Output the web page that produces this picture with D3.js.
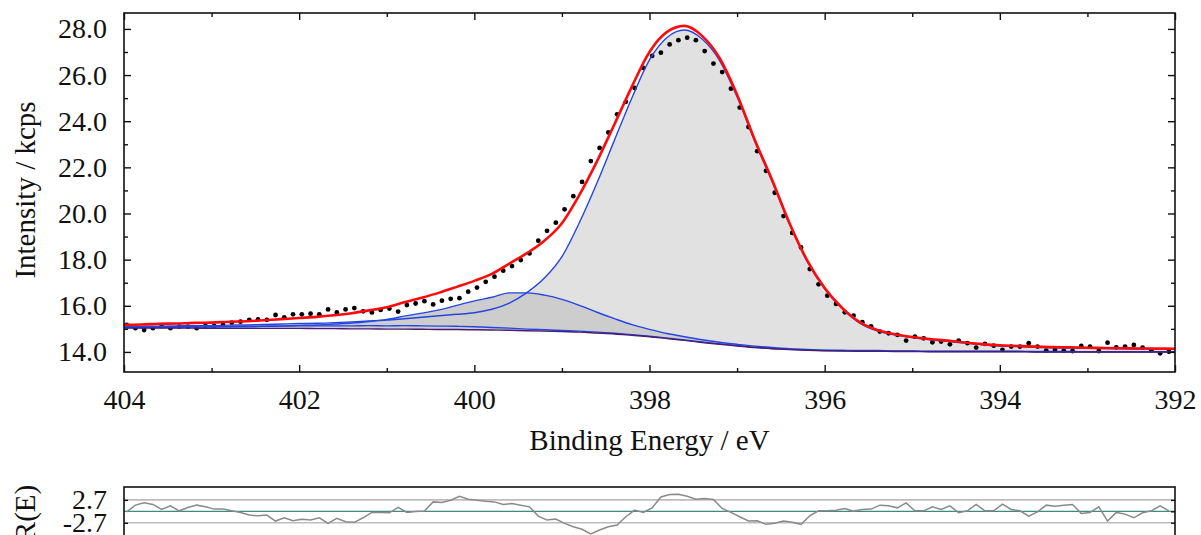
<!DOCTYPE html>
<html>
<head>
<meta charset="utf-8">
<script src="https://cdn.jsdelivr.net/npm/d3@7"></script>
<style>
  body { margin: 0; background: #fff; }
  svg text { font-family: "Liberation Serif", "Times New Roman", serif; fill: #111; }
</style>
</head>
<body>
<svg id="chart" width="1201" height="535"></svg>
<script>
// measured spectrum, one point every 0.1 eV starting at 403.97 eV
var dataStart = 403.97, dataStep = 0.1;
var counts = [
  15.17,15.03,14.95,15.03,15.12,15.03,15.10,15.10,15.03,15.13,
  15.13,15.17,15.27,15.31,15.39,15.41,15.39,15.60,15.50,15.63,
  15.63,15.66,15.63,15.84,15.71,15.84,15.90,15.76,15.71,15.82,
  15.88,15.75,16.03,16.10,16.20,16.06,16.22,16.30,16.33,16.61,
  16.79,17.04,17.26,17.52,17.72,17.98,18.27,18.82,19.25,19.60,
  20.18,20.75,21.37,22.27,22.84,23.51,24.30,24.84,25.44,26.31,
  26.83,26.97,27.33,27.51,27.62,27.51,27.04,26.50,26.13,25.41,
  24.59,23.75,22.70,21.85,20.90,19.89,19.16,18.53,17.59,16.93,
  16.44,16.08,15.72,15.57,15.29,15.11,14.88,14.81,14.74,14.49,
  14.66,14.59,14.42,14.45,14.33,14.49,14.38,14.19,14.35,14.27,
  14.09,14.23,14.23,14.38,14.23,14.06,14.09,14.06,14.04,14.26,
  14.23,14.04,14.40,14.20,14.23,14.30,14.19,14.06,13.94,14.01
];
// normalised residual R(E) at the same energies
var residuals = [
  -0.12,1.46,2.00,1.62,0.45,1.29,0.12,0.92,1.46,1.06,
  0.52,0.52,0.12,-0.30,-0.89,-1.06,-0.89,-2.30,-1.53,-2.23,
  -1.90,-2.07,-1.53,-2.84,-1.67,-2.46,-2.60,-1.53,-0.26,-0.26,
  -0.35,0.92,-0.26,-0.07,0.05,2.23,2.09,2.63,3.57,2.86,
  2.63,2.39,2.23,1.62,1.85,1.46,1.06,-1.13,-2.07,-1.83,
  -2.84,-3.64,-4.25,-5.35,-4.41,-3.64,-3.24,-1.29,0.28,-0.26,
  0.82,3.40,3.97,4.04,3.57,2.86,3.03,2.79,0.68,-0.26,
  -1.29,-2.30,-2.23,-3.08,-2.84,-2.30,-2.60,-3.08,-1.06,0.12,
  0.12,0.28,0.68,0.05,0.45,0.52,1.46,1.29,0.82,2.00,
  0.12,0.12,1.06,0.45,1.29,-0.35,0.12,1.62,0.12,0.12,
  1.69,0.45,0.12,-1.13,-0.12,1.46,1.22,1.46,1.62,-0.49,
  -0.26,1.06,-2.30,-0.26,-0.66,-1.53,-0.35,0.12,1.29,0.12
];

// fit curves, read every 0.2 eV from 404 down to 392
var fitStart = 404, fitStep = 0.2;
var background = [
  15.03,15.03,15.03,15.03,15.03,15.02,15.02,15.02,15.02,15.02,15.02,
  15.01,15.01,15.00,15.00,14.99,14.99,14.98,14.97,14.97,14.96,
  14.95,14.94,14.92,14.90,14.88,14.86,14.82,14.78,14.72,14.66,
  14.58,14.50,14.41,14.33,14.26,14.19,14.14,14.10,14.07,14.05,
  14.04,14.03,14.03,14.02,14.02,14.01,14.01,14.01,14.01,14.01,
  14.01,14.00,14.00,14.00,14.00,14.00,14.00,14.00,14.00,14.00
];
// component heights above the background
var peakMain = [
  0.07,0.08,0.09,0.10,0.11,0.12,0.14,0.15,0.17,0.19,0.21,
  0.23,0.26,0.30,0.34,0.39,0.45,0.52,0.60,0.66,0.74,
  0.90,1.18,1.65,2.30,3.25,4.75,6.50,8.40,10.30,12.00,
  13.05,13.45,13.15,12.30,10.80,8.95,7.25,5.42,3.85,2.68,
  1.83,1.22,0.88,0.72,0.60,0.52,0.45,0.37,0.30,0.25,
  0.22,0.20,0.18,0.17,0.16,0.15,0.14,0.13,0.125,0.12
];
var peakSecond = [
  0.03,0.03,0.04,0.04,0.05,0.06,0.07,0.08,0.09,0.11,0.13,
  0.16,0.20,0.25,0.32,0.42,0.56,0.70,0.85,1.05,1.25,
  1.42,1.62,1.64,1.56,1.40,1.16,0.90,0.66,0.46,0.32,
  0.22,0.16,0.12,0.09,0.07,0.06,0.05,0.04,0.04,0.03,
  0.03,0.03,0.03,0.02,0.02,0.02,0.02,0.02,0.02,0.02,
  0.02,0.02,0.02,0.02,0.01,0.01,0.01,0.01,0.01,0.01
];
var peakThird = [
  0.05,0.05,0.06,0.06,0.07,0.07,0.08,0.08,0.09,0.10,0.11,
  0.12,0.12,0.13,0.14,0.14,0.15,0.15,0.15,0.14,0.13,
  0.11,0.09,0.07,0.06,0.05,0.04,0.04,0.03,0.03,0.02,
  0.02,0.02,0.02,0.02,0.02,0.01,0.01,0.01,0.01,0.01,
  0.01,0.01,0.01,0.01,0.01,0.01,0.01,0.01,0.01,0.01,
  0.01,0.01,0.01,0.01,0.01,0.01,0.01,0.01,0.01,0.01
];

var yMajor = [14, 16, 18, 20, 22, 24, 26, 28];
var yMinor = [15, 17, 19, 21, 23, 25, 27];
var xMajor = [404, 402, 400, 398, 396, 394, 392];
var xMinor = [403, 401, 399, 397, 395, 393];
var resTicks = [2.7, -2.7];

var svg = d3.select("#chart");

var pl = 124, pr = 1175, pt = 13, pb = 372;
var x = d3.scaleLinear().domain([404, 392]).range([pl, pr]);
var y = d3.scaleLinear().domain([13.13, 28.69]).range([pb, pt]);

var dataE = d3.range(counts.length).map(function(i) { return dataStart - dataStep * i; });
var fitE = d3.range(background.length).map(function(k) { return fitStart - fitStep * k; });

var fit = fitE.map(function(e, k) {
  return {
    e: e,
    bg: background[k],
    p1: background[k] + peakMain[k],
    p2: background[k] + peakSecond[k],
    p3: background[k] + peakThird[k],
    env: background[k] + peakMain[k] + peakSecond[k] + peakThird[k]
  };
});

var clip = svg.append("defs").append("clipPath").attr("id", "plotclip");
clip.append("rect").attr("x", pl).attr("y", pt).attr("width", pr - pl).attr("height", pb - pt);

var plot = svg.append("g").attr("clip-path", "url(#plotclip)");

function band(key) {
  return d3.area().curve(d3.curveMonotoneX)
    .x(function(d) { return x(d.e); })
    .y0(function(d) { return y(d.bg); })
    .y1(function(d) { return y(d[key]); });
}
function curve(key) {
  return d3.line().curve(d3.curveMonotoneX)
    .x(function(d) { return x(d.e); })
    .y(function(d) { return y(d[key]); });
}

plot.append("path").datum(fit).attr("d", band("p1")).attr("fill", "#e1e1e1");
plot.append("path").datum(fit).attr("d", band("p2")).attr("fill", "#cdcdcd");
plot.append("path").datum(fit).attr("d", band("p3")).attr("fill", "#cdcdcd");

plot.selectAll("circle.pt")
  .data(counts)
  .enter().append("circle")
  .attr("class", "pt")
  .attr("cx", function(d, i) { return x(dataE[i]); })
  .attr("cy", function(d) { return y(d); })
  .attr("r", 2.4)
  .attr("fill", "#000");

["p3", "p2", "p1"].forEach(function(k) {
  plot.append("path").datum(fit).attr("d", curve(k))
    .attr("fill", "none").attr("stroke", "#2445e0").attr("stroke-width", 1.4);
});
plot.append("path").datum(fit).attr("d", curve("bg"))
  .attr("fill", "none").attr("stroke", "#4a1d6e").attr("stroke-width", 1.4);
plot.append("path").datum(fit).attr("d", curve("env"))
  .attr("fill", "none").attr("stroke", "#ff0a0a").attr("stroke-width", 2.6);

// frame
svg.append("rect").attr("x", pl).attr("y", pt).attr("width", pr - pl).attr("height", pb - pt)
  .attr("fill", "none").attr("stroke", "#111").attr("stroke-width", 1.6);

function fmt1(d) { return d.toFixed(1); }

function styleAxis(g) {
  g.select(".domain").remove();
  g.selectAll(".tick line").attr("stroke", "#111").attr("stroke-width", 1.4);
  g.selectAll("text").attr("font-size", 28).attr("fill", "#111")
    .attr("font-family", "Liberation Serif, Times New Roman, serif");
}

svg.append("g").attr("transform", "translate(" + pl + ",0)")
  .call(d3.axisLeft(y).tickValues(yMajor).tickSize(-7).tickPadding(17).tickFormat(fmt1))
  .call(styleAxis);
svg.append("g").attr("transform", "translate(" + pl + ",0)")
  .call(d3.axisLeft(y).tickValues(yMinor).tickSize(-4).tickFormat(""))
  .call(styleAxis);
svg.append("g").attr("transform", "translate(" + pr + ",0)")
  .call(d3.axisRight(y).tickValues(yMajor).tickSize(-7).tickFormat(""))
  .call(styleAxis);
svg.append("g").attr("transform", "translate(" + pr + ",0)")
  .call(d3.axisRight(y).tickValues(yMinor).tickSize(-4).tickFormat(""))
  .call(styleAxis);

svg.append("g").attr("transform", "translate(0," + pb + ")")
  .call(d3.axisBottom(x).tickValues(xMajor).tickSize(-7).tickPadding(17).tickFormat(d3.format("d")))
  .call(styleAxis);
svg.append("g").attr("transform", "translate(0," + pb + ")")
  .call(d3.axisBottom(x).tickValues(xMinor).tickSize(-4).tickFormat(""))
  .call(styleAxis);
svg.append("g").attr("transform", "translate(0," + pt + ")")
  .call(d3.axisTop(x).tickValues(xMajor).tickSize(-7).tickFormat(""))
  .call(styleAxis);
svg.append("g").attr("transform", "translate(0," + pt + ")")
  .call(d3.axisTop(x).tickValues(xMinor).tickSize(-4).tickFormat(""))
  .call(styleAxis);

svg.append("text")
  .attr("x", (pl + pr) / 2).attr("y", 450)
  .attr("text-anchor", "middle").attr("font-size", 29)
  .text("Binding Energy / eV");

svg.append("text")
  .attr("transform", "translate(35,190) rotate(-90)")
  .attr("text-anchor", "middle").attr("font-size", 29)
  .text("Intensity / kcps");

// residual panel
var rTop = 487, rBottom = 536;
var yr = d3.scaleLinear().domain([-5.6, 5.75]).range([535, 487]);

var res = svg.append("g");
resTicks.forEach(function(v) {
  res.append("line").attr("x1", pl).attr("x2", pr).attr("y1", yr(v)).attr("y2", yr(v))
    .attr("stroke", "#bdbdbd").attr("stroke-width", 1.6);
});
res.append("line").attr("x1", pl).attr("x2", pr).attr("y1", yr(0)).attr("y2", yr(0))
  .attr("stroke", "#3e8a80").attr("stroke-width", 1.2);

res.append("path").datum(residuals)
  .attr("d", d3.line()
    .x(function(d, i) { return x(dataE[i]); })
    .y(function(d) { return yr(d); }))
  .attr("fill", "none").attr("stroke", "#8a8a8a").attr("stroke-width", 1.5);

res.append("rect").attr("x", pl).attr("y", rTop).attr("width", pr - pl).attr("height", rBottom - rTop)
  .attr("fill", "none").attr("stroke", "#111").attr("stroke-width", 1.6);

svg.append("g").attr("transform", "translate(" + pl + ",0)")
  .call(d3.axisLeft(yr).tickValues(resTicks).tickSize(-4).tickPadding(17).tickFormat(fmt1))
  .call(styleAxis);
svg.append("g").attr("transform", "translate(" + pr + ",0)")
  .call(d3.axisRight(yr).tickValues([2.7, 0, -2.7]).tickSize(-4).tickFormat(""))
  .call(styleAxis);

svg.append("text")
  .attr("transform", "translate(35,513) rotate(-90)")
  .attr("text-anchor", "middle").attr("font-size", 29)
  .text("R(E)");
</script>
</body>
</html>
